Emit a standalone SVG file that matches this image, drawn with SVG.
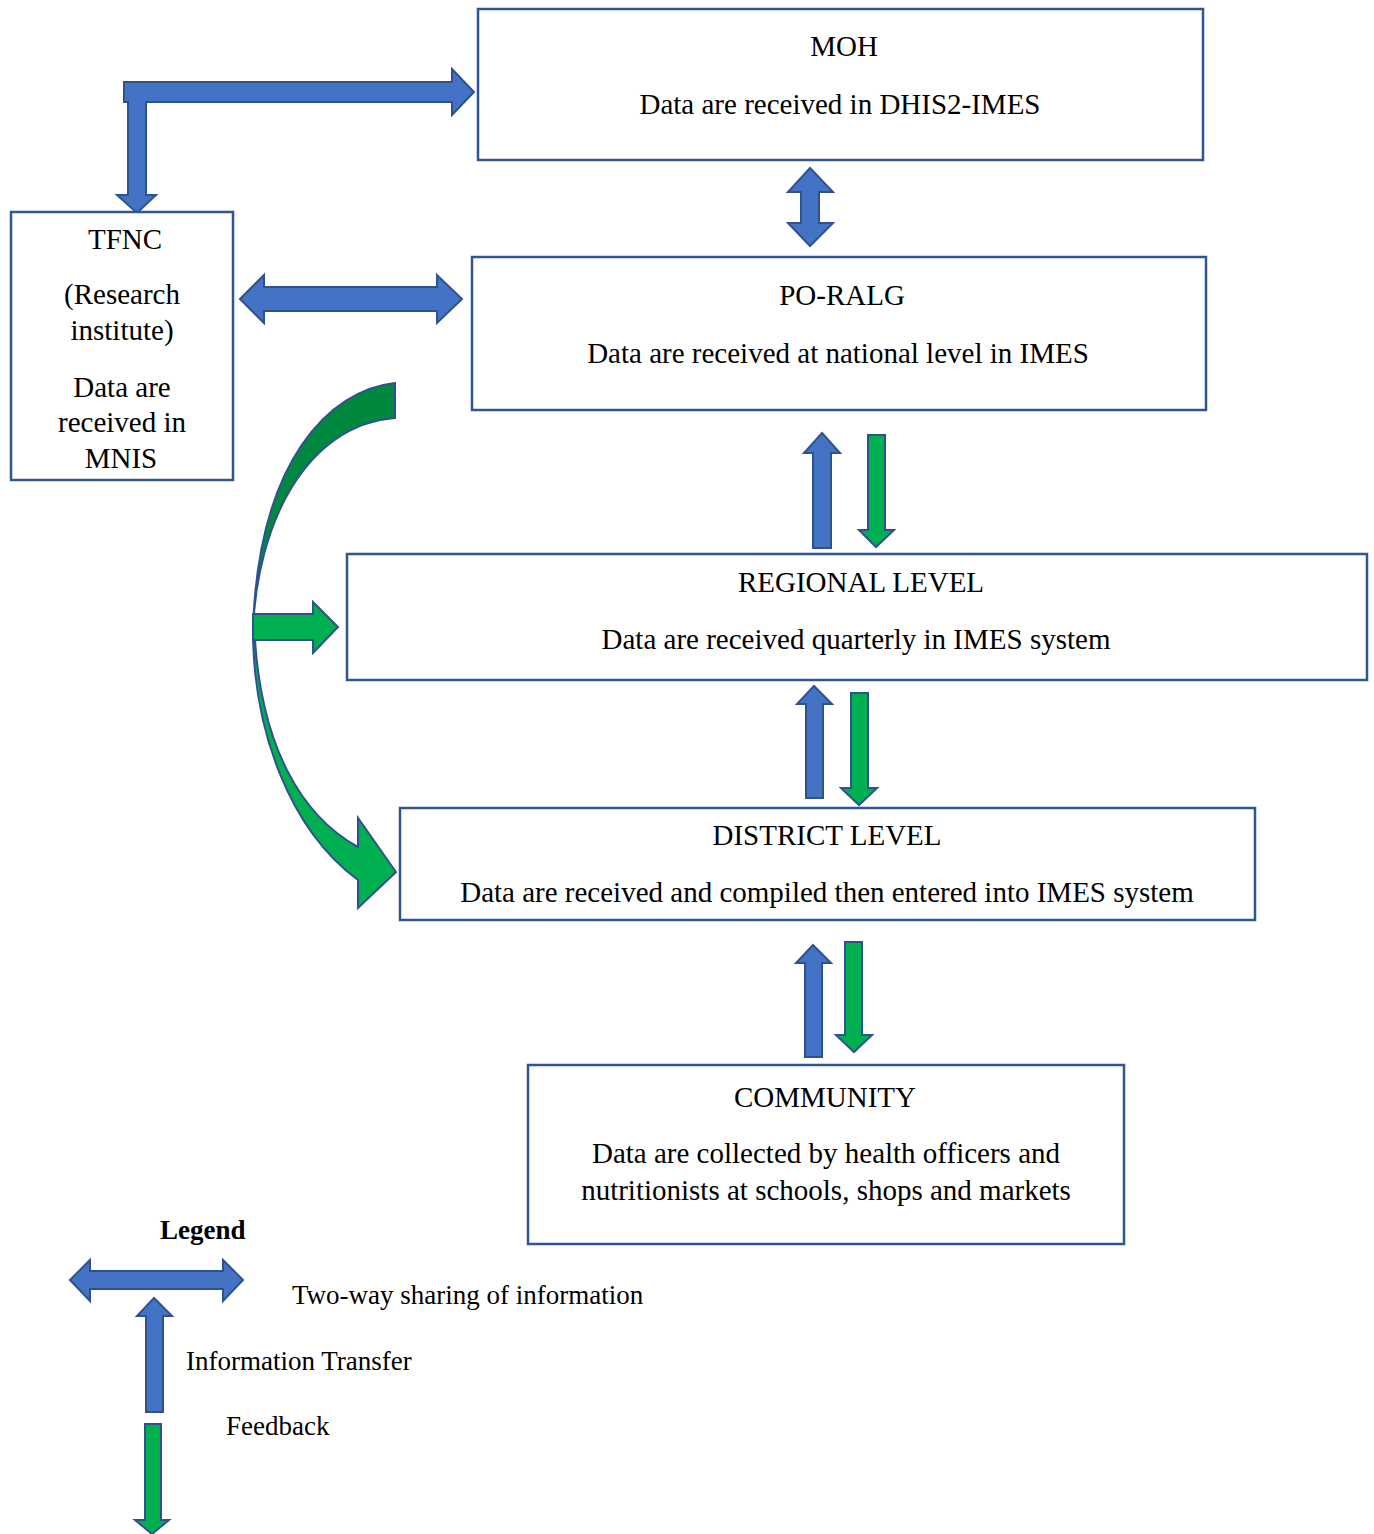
<svg xmlns="http://www.w3.org/2000/svg" width="1374" height="1534" viewBox="0 0 1374 1534">
<style>
.box{fill:#fff;stroke:#2F5597;stroke-width:2.5}
.blue{fill:#4472C4;stroke:#2F528F;stroke-width:2;stroke-linejoin:miter}
.green{fill:#00B050;stroke:#2F528F;stroke-width:2}
.dkgreen{fill:#00893E;stroke:#2F528F;stroke-width:2}
.t{font-family:"Liberation Serif","Times New Roman",serif;font-size:29px;fill:#000;text-anchor:middle}
.l{font-family:"Liberation Serif","Times New Roman",serif;font-size:27px;fill:#000}
</style>
<rect width="1374" height="1534" fill="#fff"/>
<g id="connectors">
  <path class="blue" d="M124,82 L452,82 L452,69 L474,92 L452,115 L452,102 L146,102 L146,195 L156,195 L137,213 L117,195 L128,195 L128,102 L124,102 Z"/>
  <path class="blue" d="M240,299 L264,275 L264,287 L437,287 L437,275 L462,299 L437,323 L437,311 L264,311 L264,323 Z"/>
  <path class="blue" d="M810,168 L833,192 L819,192 L819,223 L833,223 L810,246 L788,223 L801,223 L801,192 L788,192 Z"/>
  <path class="blue" d="M822,433 L840,453 L831,453 L831,548 L813,548 L813,453 L804,453 Z"/>
  <path class="green" d="M868,435 L885,435 L885,530 L894,530 L876,547 L859,530 L868,530 Z"/>
  <path class="blue" d="M814,686 L832,704 L823,704 L823,798 L806,798 L806,704 L797,704 Z"/>
  <path class="green" d="M851,693 L868,693 L868,788 L877,788 L859,805 L841,788 L851,788 Z"/>
  <path class="blue" d="M813,945 L831,963 L822,963 L822,1057 L805,1057 L805,963 L796,963 Z"/>
  <path class="green" d="M845,942 L862,942 L862,1035 L872,1035 L854,1052 L836,1035 L845,1035 Z"/>
  <path class="dkgreen" d="M395,383 C330,390 258,460 253,630 C257,525 305,425 395,418 Z"/>
  <path class="green" d="M253,625 C252,730 290,830 358,880 L358,908 L396,872 L358,818 L358,847 C300,815 262,745 255,640 Z"/>
  <path class="green" d="M253,614 L313,614 L313,602 L338,627 L313,653 L313,640 L253,640 Z"/>
</g>
<g id="moh">
  <rect class="box" x="478" y="9" width="725" height="151"/>
  <text class="t" x="844" y="56">MOH</text>
  <text class="t" x="840" y="114">Data are received in DHIS2-IMES</text>
</g>
<g id="tfnc">
  <rect class="box" x="11" y="212" width="222" height="268"/>
  <text class="t" x="125" y="249">TFNC</text>
  <text class="t" x="122" y="304">(Research</text>
  <text class="t" x="122" y="340">institute)</text>
  <text class="t" x="122" y="397">Data are</text>
  <text class="t" x="122" y="432">received in</text>
  <text class="t" x="121" y="468">MNIS</text>
</g>
<g id="poralg">
  <rect class="box" x="472" y="257" width="734" height="153"/>
  <text class="t" x="842" y="305">PO-RALG</text>
  <text class="t" x="838" y="363">Data are received at national level in IMES</text>
</g>
<g id="regional">
  <rect class="box" x="347" y="554" width="1020" height="126"/>
  <text class="t" x="861" y="592">REGIONAL LEVEL</text>
  <text class="t" x="856" y="649">Data are received quarterly in IMES system</text>
</g>
<g id="district">
  <rect class="box" x="400" y="808" width="855" height="112"/>
  <text class="t" x="827" y="845">DISTRICT LEVEL</text>
  <text class="t" x="827" y="902">Data are received and compiled then entered into IMES system</text>
</g>
<g id="community">
  <rect class="box" x="528" y="1065" width="596" height="179"/>
  <text class="t" x="825" y="1107">COMMUNITY</text>
  <text class="t" x="826" y="1163">Data are collected by health officers and</text>
  <text class="t" x="826" y="1200">nutritionists at schools, shops and markets</text>
</g>
<g id="legend">
  <text class="l" x="160" y="1239" font-weight="bold">Legend</text>
  <path class="blue" d="M70,1280 L90,1260 L90,1271 L223,1271 L223,1260 L243,1280 L223,1301 L223,1289 L90,1289 L90,1301 Z"/>
  <path class="blue" d="M154,1298 L172,1316 L163,1316 L163,1412 L146,1412 L146,1316 L137,1316 Z"/>
  <path class="green" d="M145,1424 L161,1424 L161,1520 L169,1520 L152,1534 L135,1520 L145,1520 Z"/>
  <text class="l" x="292" y="1304">Two-way sharing of information</text>
  <text class="l" x="186" y="1370">Information Transfer</text>
  <text class="l" x="226" y="1435">Feedback</text>
</g>
</svg>
